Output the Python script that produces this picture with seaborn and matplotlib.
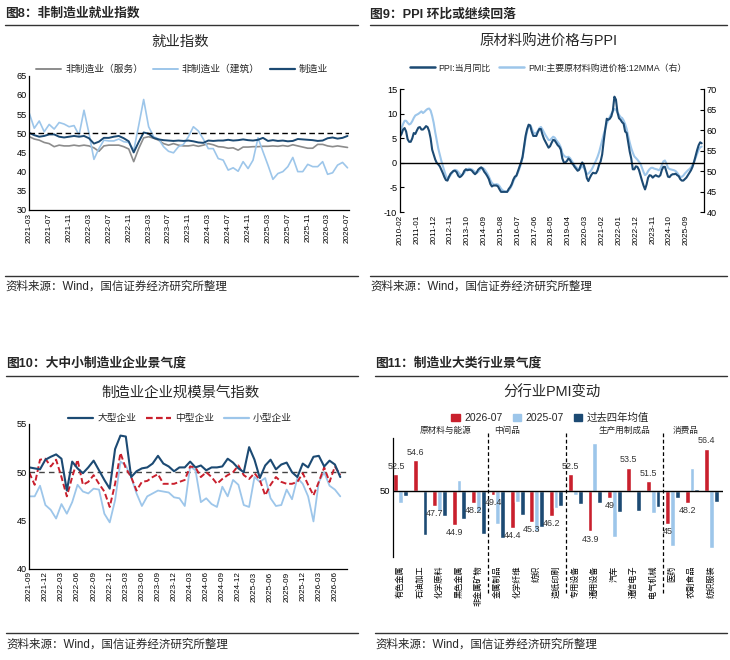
import numpy as np
import pandas as pd
import seaborn as sns
import matplotlib.pyplot as plt
import matplotlib.transforms as mtransforms
from matplotlib.lines import Line2D
from matplotlib.patches import Patch

sns.set_theme(style='white')
plt.rcParams['font.family'] = ['Liberation Sans', 'Noto Sans CJK SC', 'DejaVu Sans']
plt.rcParams['axes.unicode_minus'] = False

NAVY = '#1c4a73'
LIGHT = '#9dc6ea'
GREY = '#8c8c8c'
RED = '#c9202d'

# ----------------- 图8 就业指数 (monthly, 2021-03 .. 2026-07) -----------------
emp_mfg = [50.1, 49.5, 49.1, 49.3, 49.7, 49.7, 49.1, 48.9, 49.1, 49.3, 49.1, 49.3,
           48.7, 47.3, 47.8, 48.8, 48.8, 49.1, 49.3, 48.7, 47.9, 45.0, 47.7, 50.2,
           49.9, 48.8, 48.4, 48.2, 48.1, 48.0, 48.1, 48.0, 48.1, 47.9, 47.6, 47.5,
           48.1, 48.0, 48.1, 48.1, 48.3, 48.1, 48.2, 48.4, 48.2, 48.1, 48.3, 48.8,
           48.0, 48.2, 48.0, 48.1, 47.9, 48.0, 48.5, 48.4, 48.3, 48.2, 48.0, 48.1,
           48.7, 48.9, 48.6, 48.8, 49.3]
emp_service = [49.1, 48.5, 48.2, 47.6, 47.3, 46.5, 46.9, 46.7, 46.7, 46.9, 46.7, 46.9,
               46.7, 46.2, 45.3, 46.7, 46.9, 46.9, 46.9, 46.5, 45.9, 42.6, 46.0, 48.8,
               49.1, 48.7, 48.2, 47.3, 46.9, 47.3, 46.9, 46.7, 46.7, 46.9, 46.6, 46.9,
               47.3, 47.0, 46.5, 46.4, 46.1, 46.2, 45.6, 46.4, 46.4, 46.5, 46.5, 46.6,
               46.6, 46.7, 46.6, 46.8, 46.6, 47.0, 46.7, 46.4, 46.1, 46.1, 47.1, 47.1,
               46.7, 46.5, 46.7, 46.5, 46.3]
emp_build = [55.2, 51.3, 53.2, 50.4, 52.3, 51.1, 52.8, 52.4, 51.7, 52.0, 49.5, 56.0,
             50.0, 43.2, 46.0, 48.2, 48.0, 48.0, 48.5, 47.8, 47.6, 45.5, 52.0, 58.8,
             51.7, 49.1, 48.5, 46.5, 45.3, 44.9, 46.5, 47.1, 49.1, 51.7, 50.6, 48.5,
             46.0, 46.0, 43.4, 43.0, 40.4, 41.0, 40.1, 42.6, 40.8, 43.0, 48.8, 45.2,
             41.7, 38.0, 39.5, 40.0, 41.3, 43.7, 40.0, 40.0, 41.9, 41.3, 41.3, 42.6,
             39.3, 39.7, 41.7, 42.4, 41.0]
emp_dates = pd.date_range('2021-03', periods=len(emp_mfg), freq='MS').strftime('%Y-%m')

# ----------------- 图9 PPI 与原材料购进价格 (monthly, 2010-02 .. 2026-07) -----------------
ppi_yoy = [5.4, 5.9, 6.8, 7.1, 6.4, 4.8, 4.3, 4.3, 5.0, 6.1, 5.9,
           6.6, 7.2, 7.3, 6.8, 6.8, 7.1, 7.5, 7.3, 6.5, 5.0, 2.7, 1.7,
           0.7, 0.0, -0.3, -0.7, -1.4, -2.1, -2.9, -3.5, -3.6, -2.8, -2.2, -1.9,
           -1.6, -1.6, -1.9, -2.6, -2.9, -2.7, -2.3, -1.6, -1.3, -1.5, -1.4, -1.4,
           -1.6, -2.0, -2.3, -2.0, -1.4, -1.1, -0.9, -1.2, -1.8, -2.2, -2.7, -3.3,
           -4.3, -4.8, -4.6, -4.6, -4.6, -4.8, -5.4, -5.9, -5.9, -5.9, -5.9, -5.9,
           -5.3, -4.9, -4.3, -3.4, -2.8, -2.6, -1.7, -0.8, 0.1, 1.2, 3.3, 5.5,
           6.9, 7.8, 7.6, 6.4, 5.5, 5.5, 5.5, 6.3, 6.9, 6.9, 5.8, 4.9,
           4.3, 3.7, 3.1, 3.4, 4.1, 4.7, 4.6, 4.1, 3.6, 3.3, 2.7, 0.9,
           0.1, 0.1, 0.4, 0.9, 0.6, 0.0, -0.3, -0.8, -1.2, -1.6, -1.4, -0.5,
           0.1, -0.4, -1.5, -3.1, -3.7, -3.0, -2.4, -2.0, -2.1, -2.1, -1.5, -0.4,
           0.3, 1.7, 4.4, 6.8, 9.0, 8.8, 9.0, 9.5, 10.7, 13.5, 12.9, 10.3,
           9.1, 8.8, 8.3, 8.0, 6.4, 6.1, 4.2, 2.3, 0.9, -1.3, -1.3, -0.7,
           -0.8, -1.4, -2.5, -3.6, -4.6, -5.4, -4.4, -3.0, -2.5, -2.6, -3.0, -2.7,
           -2.5, -2.7, -2.8, -2.5, -1.4, -0.8, -0.8, -1.8, -2.8, -2.9, -2.5, -2.3,
           -2.3, -2.2, -2.5, -2.7, -3.3, -3.6, -3.6, -3.3, -3.0, -2.5, -2.0, -1.5,
           -0.8, 0.2, 1.4, 2.6, 3.6, 4.2, 4.0]
pmi_input_12mma = [58.5, 60.5, 61.5, 62.3, 62.3, 61.8, 61.4, 61.6, 62.2, 63.0, 63.6,
                   63.8, 64.0, 64.3, 64.6, 64.2, 64.5, 64.9, 65.2, 65.3, 64.8, 63.5, 61.8,
                   59.5, 57.5, 55.5, 54.0, 52.5, 51.2, 50.0, 48.8, 48.2, 48.4, 49.0, 49.6,
                   50.0, 50.3, 50.2, 49.8, 49.3, 49.0, 49.2, 49.6, 50.2, 50.5, 50.6, 50.5,
                   50.4, 50.1, 49.8, 49.6, 49.8, 50.2, 50.7, 50.8, 50.5, 50.0, 49.4, 48.7,
                   47.8, 47.1, 46.8, 46.7, 46.8, 46.7, 46.3, 45.7, 45.3, 45.1, 45.0, 45.0,
                   45.3, 45.8, 46.5, 47.5, 48.3, 48.8, 49.6, 50.6, 51.8, 53.2, 55.5, 58.0,
                   59.8, 61.0, 61.3, 60.5, 59.5, 59.2, 59.3, 59.8, 60.5, 60.8, 60.2, 59.5,
                   58.8, 58.2, 57.6, 57.6, 58.0, 58.4, 58.2, 57.6, 57.1, 56.6, 55.8, 54.4,
                   53.8, 53.5, 53.4, 53.5, 53.2, 52.6, 52.0, 51.4, 51.0, 50.6, 50.5, 50.8,
                   51.2, 50.8, 50.0, 49.3, 49.4, 49.8, 50.3, 51.0, 51.8, 52.6, 53.5, 54.6,
                   56.0, 57.5, 59.0, 60.3, 61.6, 62.5, 63.3, 64.0, 64.6, 65.2, 65.0, 64.4,
                   63.8, 63.2, 63.0, 62.4, 61.5, 60.3, 58.6, 57.0, 55.6, 54.5, 53.6, 53.2,
                   52.8, 52.3, 51.8, 50.8, 49.8, 49.0, 49.3, 50.0, 50.5, 50.8, 50.8, 50.6,
                   50.5, 50.4, 50.2, 50.6, 51.5, 52.4, 52.6, 51.8, 50.8, 50.5, 50.4, 50.3,
                   50.2, 50.0, 49.6, 49.0, 48.6, 48.6, 48.9, 49.4, 49.8, 50.2, 50.5, 50.9,
                   51.5, 52.3, 53.2, 54.2, 55.2, 55.8, 56.0]
ppi_dates = pd.date_range('2010-02', periods=len(ppi_yoy), freq='MS').strftime('%Y-%m')

# ----------------- 图10 企业规模景气 (monthly, 2021-09 .. 2026-07) -----------------
pmi_large = [50.5, 50.4, 50.3, 51.3, 51.6, 51.85, 51.4, 48.1, 51.1, 50.4, 49.9, 50.5,
             51.2, 50.2, 49.2, 48.3, 52.4, 53.8, 53.7, 49.5, 50.1, 50.4, 50.5, 50.9,
             51.7, 50.9, 50.6, 50.1, 50.5, 50.5, 51.1, 50.5, 50.7, 50.2, 50.5, 50.5,
             50.6, 51.4, 51.0, 50.4, 50.0, 52.6, 51.3, 49.4, 50.7, 51.3, 50.3, 50.8,
             51.0, 50.0, 49.5, 50.9, 50.5, 51.6, 51.7, 50.6, 51.2, 50.8, 49.5]
pmi_medium = [49.95, 48.7, 51.3, 51.4, 50.6, 51.3, 49.5, 47.5, 49.5, 51.3, 48.7, 49.0,
              49.7, 48.8, 48.0, 46.4, 48.8, 52.0, 50.4, 49.5, 48.1, 49.0, 49.1, 49.5,
              49.8, 48.8, 48.8, 48.8, 49.0, 49.2, 50.6, 50.5, 49.5, 50.0, 49.5, 48.8,
              49.3, 49.7, 50.0, 50.7, 49.7, 49.3, 49.9, 49.2, 47.6, 48.7, 49.5, 49.0,
              48.8, 48.8, 49.0, 49.9, 48.7, 47.6, 49.0, 50.5, 49.0, 50.6, 49.7]
pmi_small = [47.5, 47.5, 48.6, 46.6, 46.1, 45.2, 46.7, 45.7, 46.9, 48.7, 48.0, 47.8,
             48.3, 48.2, 45.7, 44.8, 47.1, 51.1, 50.7, 49.5, 47.8, 46.5, 47.5, 47.8,
             48.1, 48.0, 47.9, 47.4, 47.3, 46.5, 50.6, 50.2, 46.9, 47.3, 46.7, 46.4,
             48.5, 47.5, 49.2, 48.7, 46.6, 46.4, 49.5, 49.0, 49.4, 47.3, 46.5, 46.6,
             48.2, 47.2, 49.4, 48.8, 47.5, 44.9, 49.0, 50.0, 48.6, 48.2, 47.5]
size_dates = pd.date_range('2021-09', periods=len(pmi_large), freq='MS').strftime('%Y-%m')

# ----------------- 图11 分行业PMI -----------------
industries = ['有色金属', '石油加工', '化学原料', '黑色金属', '非金属矿物',
              '金属制品', '化学纤维', '纺织', '造纸印刷',
              '专用设备', '通用设备', '汽车', '通信电子', '电气机械',
              '医药', '农副食品', '纺织服装']
pmi_2026_07 = [52.5, 54.6, 47.7, 44.9, 48.2, 49.4, 44.4, 45.3, 46.2,
               52.5, 43.9, 49.0, 53.5, 51.5, 45.0, 48.2, 56.4]
pmi_2025_07 = [48.1, 50.0, 47.0, 51.6, 46.8, 45.0, 48.3, 44.0, 47.4,
               49.4, 57.2, 43.1, 50.0, 46.7, 41.6, 53.4, 41.3]
pmi_4yr_avg = [49.2, 43.4, 46.2, 45.7, 43.5, 42.9, 46.4, 44.6, 47.7,
               48.0, 48.2, 46.8, 47.0, 47.5, 49.0, 50.3, 48.3]
bar_series = ['2026-07', '2025-07', '过去四年均值']
group_names = ['原材料与能源', '中间品', '生产用制成品', '消费品']
group_label_x = [2.3, 5.5, 11.5, 14.7]
group_breaks = [4.5, 8.5, 13.5]

SOURCE = '资料来源：Wind，国信证券经济研究所整理'

# ----------------- figure helpers -----------------
W, H = 730, 660
fig = plt.figure(figsize=(W / 100, H / 100), dpi=100)


def fx(px):
    return px / W


def fy(py):
    return 1 - py / H


def panel_frame(x0, x1, y_head, y_rule, y_foot_rule, y_foot, heading):
    fig.text(fx(x0), fy(y_head), heading, fontsize=9.2, fontweight='bold', va='center', ha='left')
    fig.add_artist(Line2D([fx(x0), fx(x1)], [fy(y_rule)] * 2, color='#333333', lw=1.0))
    fig.add_artist(Line2D([fx(x0), fx(x1)], [fy(y_foot_rule)] * 2, color='#333333', lw=1.0))
    fig.text(fx(x0), fy(y_foot), SOURCE, fontsize=8.3, va='center', ha='left')


def add_axes(x0, x1, y0, y1):
    return fig.add_axes([fx(x0), fy(y1), fx(x1 - x0), (y1 - y0) / H])


def style_axes(ax):
    for s in ['top', 'right']:
        ax.spines[s].set_visible(False)
    for s in ['left', 'bottom']:
        ax.spines[s].set_color('black')
        ax.spines[s].set_linewidth(0.9)
    ax.tick_params(direction='in', length=3, width=0.8, labelsize=5.9, colors='black', pad=2)
    ax.tick_params(axis='y', labelsize=6.6)
    ax.set_xlabel('')
    ax.set_ylabel('')


def fig_legend(ax, handles, cx, cy, ncol, fontsize=7.0, **kw):
    ax.legend(handles=handles, ncol=ncol, frameon=False, loc='center',
              bbox_to_anchor=(fx(cx), fy(cy)), bbox_transform=fig.transFigure,
              fontsize=fontsize, handletextpad=0.4, columnspacing=1.0, borderpad=0, **kw)


# ----------------- 图8 -----------------
panel_frame(5, 358, 14, 25, 276, 287, '图8：非制造业就业指数')
fig.text(fx(180), fy(42), '就业指数', fontsize=10.4, ha='center', va='center')
ax1 = add_axes(29.3, 349, 75.7, 210)
x1 = np.arange(len(emp_mfg))
sns.lineplot(x=x1, y=emp_service, color=GREY, linewidth=1.2, ax=ax1)
sns.lineplot(x=x1, y=emp_build, color=LIGHT, linewidth=1.2, ax=ax1)
sns.lineplot(x=x1, y=emp_mfg, color=NAVY, linewidth=1.4, ax=ax1)
ax1.axhline(50, color='black', lw=1.0, ls=(0, (4, 2.5)))
ax1.set_ylim(30, 65)
ax1.set_yticks(range(30, 66, 5))
ax1.set_xlim(0, len(emp_mfg) - 0.7)
ax1.set_xticks(x1[::4])
ax1.set_xticklabels(emp_dates[::4], rotation=90)
style_axes(ax1)
fig_legend(ax1, [Line2D([], [], color=GREY, lw=1.4, label='非制造业（服务）'),
                 Line2D([], [], color=LIGHT, lw=1.4, label='非制造业（建筑）'),
                 Line2D([], [], color=NAVY, lw=1.6, label='制造业')],
           182, 69, 3, handlelength=2.6)

# ----------------- 图9 -----------------
panel_frame(370, 727, 14, 25, 276, 287, '图9：PPI 环比或继续回落')
fig.text(fx(548), fy(42), '原材料购进价格与PPI', fontsize=10.4, ha='center', va='center')
ax2 = add_axes(400, 704, 89.3, 212)
ax2r = ax2.twinx()
x2 = np.arange(len(ppi_yoy))
x2r = np.arange(len(pmi_input_12mma))
sns.lineplot(x=x2r, y=pmi_input_12mma, color=LIGHT, linewidth=1.5, ax=ax2r)
sns.lineplot(x=x2, y=ppi_yoy, color=NAVY, linewidth=1.5, ax=ax2)
ax2.set_zorder(ax2r.get_zorder() + 1)
ax2.patch.set_visible(False)
ax2.axhline(0, color='black', lw=1.0)
ax2.set_ylim(-10, 15)
ax2.set_yticks(range(-10, 16, 5))
ax2r.set_ylim(40, 70)
ax2r.set_yticks(range(40, 71, 5))
ax2.set_xlim(0, len(ppi_yoy) + 0.5)
ax2.set_xticks(x2[::11])
ax2.set_xticklabels(ppi_dates[::11], rotation=90)
style_axes(ax2)
ax2.spines['bottom'].set_visible(False)
ax2.tick_params(axis='x', length=0)
for s in ['top', 'bottom', 'left']:
    ax2r.spines[s].set_visible(False)
ax2r.spines['right'].set_color('black')
ax2r.spines['right'].set_linewidth(0.9)
ax2r.tick_params(direction='in', length=3, width=0.8, labelsize=6.6, colors='black', pad=2)
ax2r.set_ylabel('')
fig_legend(ax2, [Line2D([], [], color=NAVY, lw=1.8, label='PPI:当月同比'),
                 Line2D([], [], color=LIGHT, lw=1.8, label='PMI:主要原材料购进价格:12MMA（右）')],
           548, 68, 2, fontsize=6.4, handlelength=2.8)

# ----------------- 图10 -----------------
panel_frame(6, 358, 363, 376, 633, 645, '图10：大中小制造业企业景气度')
fig.text(fx(180), fy(393), '制造业企业规模景气指数', fontsize=10.4, ha='center', va='center')
ax3 = add_axes(29.3, 346.7, 424, 568.7)
x3 = np.arange(len(pmi_large))
ax3.axhline(50, color='#444444', lw=1.0, ls=(0, (4, 3)))
sns.lineplot(x=x3, y=pmi_small, color=LIGHT, linewidth=1.3, ax=ax3)
sns.lineplot(x=x3, y=pmi_medium, color=RED, linewidth=1.4, ax=ax3, linestyle=(0, (3, 1.5)))
sns.lineplot(x=x3, y=pmi_large, color=NAVY, linewidth=1.5, ax=ax3)
ax3.set_ylim(40, 55)
ax3.set_yticks(range(40, 56, 5))
ax3.set_xlim(0, len(pmi_large) + 0.2)
ax3.set_xticks(x3[::3])
ax3.set_xticklabels(size_dates[::3], rotation=90)
style_axes(ax3)
fig_legend(ax3, [Line2D([], [], color=NAVY, lw=1.6, label='大型企业'),
                 Line2D([], [], color=RED, lw=1.6, ls=(0, (3, 1.5)), label='中型企业'),
                 Line2D([], [], color=LIGHT, lw=1.6, label='小型企业')],
           180, 418, 3, handlelength=2.6)

# ----------------- 图11 -----------------
panel_frame(375, 727, 363, 376, 633, 645, '图11：制造业大类行业景气度')
fig.text(fx(552), fy(393), '分行业PMI变动', fontsize=10.4, ha='center', va='center')
ax4 = add_axes(393, 723, 438, 557)
bars = pd.DataFrame({
    'industry': industries * 3,
    'series': np.repeat(bar_series, len(industries)),
    'value': pmi_2026_07 + pmi_2025_07 + pmi_4yr_avg,
})
bars['diff'] = bars['value'] - 50
sns.barplot(data=bars, x='industry', y='diff', hue='series', order=industries,
            hue_order=bar_series, palette=[RED, LIGHT, NAVY], width=0.75,
            saturation=1, errorbar=None, legend=False, ax=ax4)
ax4.axhline(0, color='black', lw=1.0)
ax4.set_ylim(-10, 8)
ax4.set_yticks(range(-10, 9, 2))
ax4.set_yticklabels(['50' if t == 0 else '' for t in range(-10, 9, 2)])
ax4.set_xlim(-0.4, len(industries) - 0.4)
style_axes(ax4)
ax4.spines['bottom'].set_visible(False)
ax4.tick_params(axis='x', length=0, pad=6)
ax4.tick_params(axis='y', labelsize=6.8)
plt.setp(ax4.get_xticklabels(), rotation=90, fontsize=5.9)

for bar, v in zip(ax4.containers[0], pmi_2026_07):
    h = bar.get_height()
    cx = bar.get_x() + bar.get_width() / 2
    ax4.text(cx, h + (0.5 if h >= 0 else -0.5), f'{v:g}', ha='center',
             va='bottom' if h >= 0 else 'top', fontsize=6.4, color='#333333')

trans = mtransforms.blended_transform_factory(ax4.transData, ax4.transAxes)
for xb in group_breaks:
    ax4.plot([xb, xb], [-0.30, 1.06], transform=trans, color='black', lw=0.9,
             ls=(0, (3, 2)), clip_on=False)
for name, gx in zip(group_names, group_label_x):
    ax4.text(gx, 1.06, name, transform=trans, ha='center', va='center', fontsize=6.2)

ax4.legend(handles=[Patch(color=c, label=s) for c, s in zip([RED, LIGHT, NAVY], bar_series)],
           ncol=3, frameon=False, loc='center', bbox_to_anchor=(fx(550), fy(418)),
           bbox_transform=fig.transFigure, fontsize=7.5, handlelength=0.8, handleheight=0.8,
           handletextpad=0.4, columnspacing=1.0, borderpad=0)

fig.savefig('out.png', dpi=100, facecolor='white')
